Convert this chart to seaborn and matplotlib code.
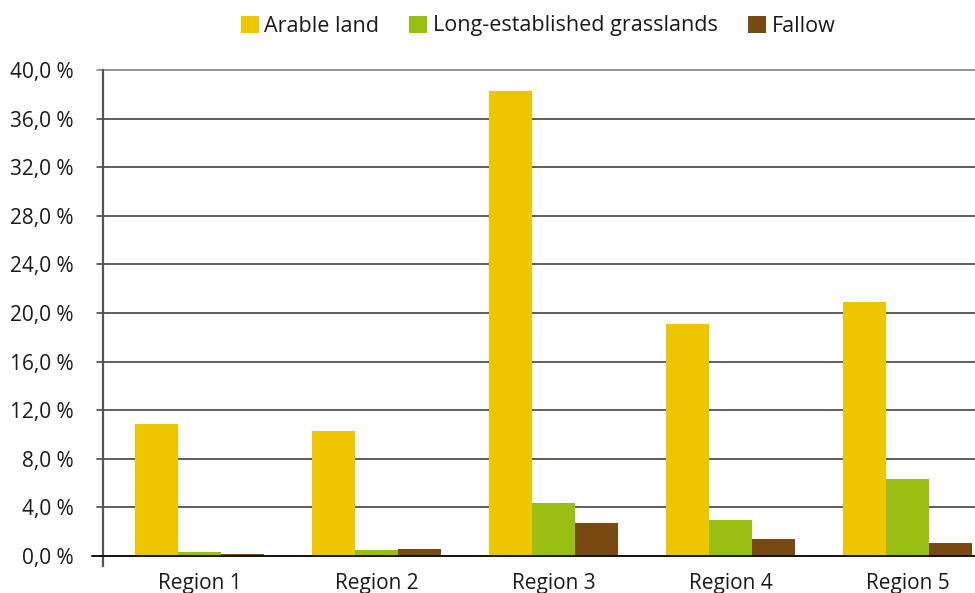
import matplotlib
matplotlib.use("Agg")
import matplotlib.pyplot as plt
import seaborn as sns
import pandas as pd
from matplotlib.patches import Patch
from matplotlib.ticker import FuncFormatter

# Share of land use per region (%)
regions = ["Region 1", "Region 2", "Region 3", "Region 4", "Region 5"]
series = ["Arable land", "Long-established grasslands", "Fallow"]
arable = [10.85, 10.3, 38.3, 19.1, 20.9]
grassland = [0.3, 0.47, 4.4, 2.95, 6.3]
fallow = [0.14, 0.55, 2.7, 1.37, 1.05]
colors = ["#EDC500", "#98BF11", "#784A12"]
yticks = [0, 4, 8, 12, 16, 20, 24, 28, 32, 36, 40]

rows = []
for name, vals in zip(series, [arable, grassland, fallow]):
    for reg, v in zip(regions, vals):
        rows.append({"region": reg, "series": name, "value": v})
df = pd.DataFrame(rows)

sns.set_theme(style="white")
plt.rcParams["font.family"] = ["Open Sans", "DejaVu Sans"]

fig = plt.figure(figsize=(9.75, 5.93), dpi=100)
ax = fig.add_axes([103 / 975, 27 / 593, 1 - 103 / 975, (566 - 70) / 593])

sns.barplot(data=df, x="region", y="value", hue="series", order=regions,
            hue_order=series, palette=colors, width=0.725, gap=0,
            saturation=1, linewidth=0, legend=False, ax=ax, zorder=3)

ax.set_xlim(-0.545, 4.381)
ax.set_ylim(-10 / 12.14, 40)
ax.set_yticks(yticks)
ax.yaxis.set_major_formatter(FuncFormatter(lambda v, p: f"{v:.1f} %".replace(".", ",")))
ax.set_xlabel("")
ax.set_ylabel("")

for s in ["top", "right", "bottom"]:
    ax.spines[s].set_visible(False)
ax.spines["left"].set_color("#555555")
ax.spines["left"].set_linewidth(1.6)

# horizontal gridlines, extended slightly left of the axis
for t in yticks[1:]:
    ax.axhline(t, xmin=-6 / 872, xmax=1, color="#333333" if t < 40 else "#777777",
               lw=1.1, clip_on=False, zorder=1)
ax.axhline(0, xmin=-11 / 872, xmax=1, color="#111111", lw=1.4, clip_on=False, zorder=4)

ax.tick_params(axis="y", length=0, pad=21, labelsize=15, colors="#1a1a1a")
ax.tick_params(axis="x", length=0, pad=5, labelsize=15, colors="#1a1a1a")

handles = [Patch(facecolor=c, edgecolor="none") for c in colors]
fig.legend(handles, series, loc="center", bbox_to_anchor=(538 / 975, 1 - 26 / 593),
           ncol=3, frameon=False, fontsize=15.5, handlelength=0.84, handleheight=0.84,
           handletextpad=0.26, columnspacing=1.4, labelcolor="#1a1a1a")

fig.savefig("out.png", dpi=100)
